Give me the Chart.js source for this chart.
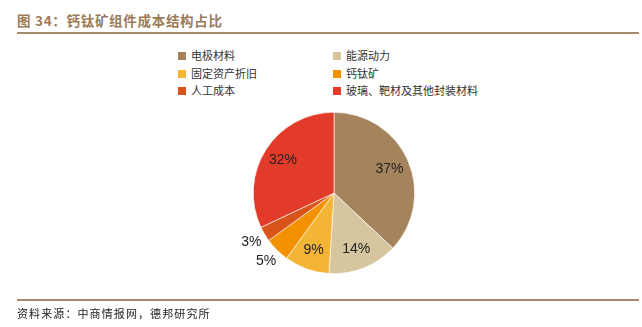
<!DOCTYPE html>
<html>
<head>
<meta charset="utf-8">
<script src="https://cdn.jsdelivr.net/npm/chart.js@4/dist/chart.umd.min.js"></script>
<style>
  body { margin: 0; background: #fff; }
  #wrap { position: relative; width: 642px; height: 327px; overflow: hidden; font-family: "Noto Sans CJK SC", sans-serif; }
  #pie { position: absolute; left: 0; top: 0; }
  .title { position: absolute; left: 17px; top: 10px; font-size: 13.5px; font-weight: bold; color: #9c7b58; white-space: nowrap; letter-spacing: 0.7px; }
  .rule { position: absolute; left: 17px; width: 622px; height: 2px; background: #a98a68; }
  .leg { position: absolute; font-size: 11px; color: #333; white-space: nowrap; line-height: 14px; }
  .leg i { display: inline-block; width: 8px; height: 8px; margin-right: 5px; }
  .src { position: absolute; left: 17px; top: 305px; font-size: 11px; color: #222; white-space: nowrap; letter-spacing: 1.1px; }
</style>
</head>
<body>
<div id="wrap">
  <div class="title">图 34：钙钛矿组件成本结构占比</div>
  <div class="rule" style="top:32px"></div>
  <div id="legend"></div>
  <canvas id="pie" width="642" height="327"></canvas>
  <div class="rule" style="top:299px"></div>
  <div class="src">资料来源：中商情报网，德邦研究所</div>
</div>
<script>
// 成本结构数据
const categorias = ['电极材料', '能源动力', '固定资产折旧', '钙钛矿', '人工成本', '玻璃、靶材及其他封装材料'];
const porcentajes = [37, 14, 9, 5, 3, 32];
const colores = ['#a5845d', '#d6c59e', '#f4b536', '#f39200', '#d9541b', '#e33b2a'];
const etiquetasFuera = [false, false, false, true, true, false];

// leyenda en dos columnas
let leyenda = document.getElementById('legend');
for (let i = 0; i < categorias.length; i++) {
    let col = i % 2, fila = Math.floor(i / 2);
    let d = document.createElement('div');
    d.className = 'leg';
    d.style.left = (col == 0 ? 178 : 333) + 'px';
    d.style.top = (48 + fila * 17.5) + 'px';
    d.innerHTML = '<i style="background:' + colores[i] + '"></i>' + categorias[i];
    leyenda.appendChild(d);
}

const etiquetas = {
    id: 'etiquetas',
    afterDatasetsDraw(chart) {
        let ctx = chart.ctx;
        let arcos = chart.getDatasetMeta(0).data;
        ctx.save();
        ctx.font = '14px "Liberation Sans", Arial, sans-serif';
        ctx.fillStyle = '#222';
        ctx.textAlign = 'center';
        ctx.textBaseline = 'middle';
        arcos.forEach(function (a, i) {
            let medio = (a.startAngle + a.endAngle) / 2;
            let f = etiquetasFuera[i] ? 1.19 : 0.75;
            let x = a.x + Math.cos(medio) * a.outerRadius * f;
            let y = a.y + Math.sin(medio) * a.outerRadius * f;
            ctx.fillText(porcentajes[i] + '%', x, y);
        });
        ctx.restore();
    }
};

new Chart(document.getElementById('pie'), {
    type: 'pie',
    data: {
        labels: categorias,
        datasets: [{
            data: porcentajes,
            backgroundColor: colores,
            borderColor: '#fff',
            borderWidth: 0.6
        }]
    },
    options: {
        responsive: false,
        animation: false,
        events: [],
        layout: { padding: { left: 253, right: 227, top: 112, bottom: 53 } },
        plugins: { legend: { display: false }, tooltip: { enabled: false } }
    },
    plugins: [etiquetas]
});
</script>
</body>
</html>
